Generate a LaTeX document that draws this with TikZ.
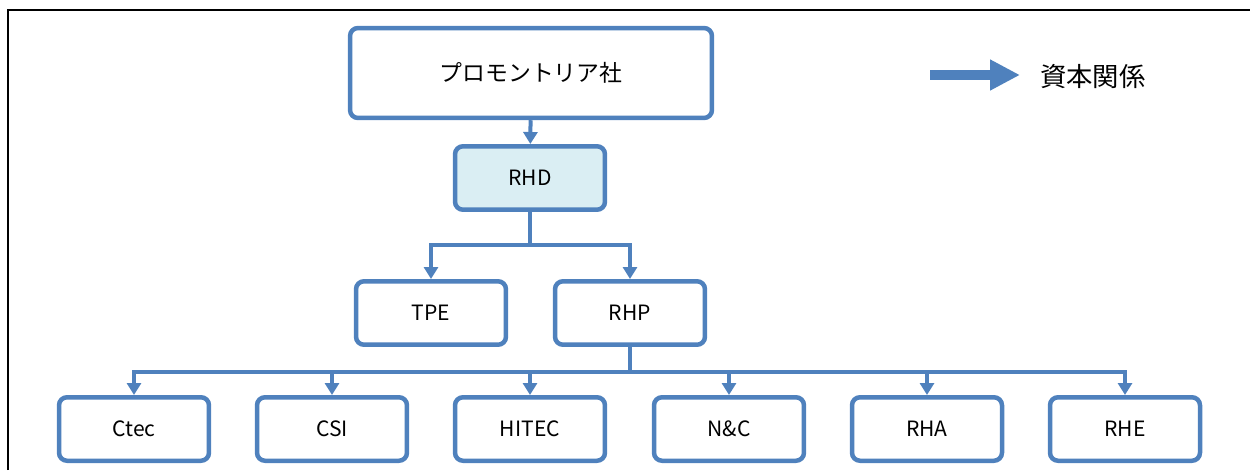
\documentclass[tikz,border=0pt]{standalone}
\usepackage{fontspec}
\setmainfont{Noto Sans CJK JP}
\usetikzlibrary{arrows.meta}
\definecolor{officeblue}{RGB}{79,129,189}
\definecolor{paleblue}{RGB}{218,238,243}
\tikzstyle{box} = [draw=officeblue, line width=0.09cm, rounded corners=0.16cm, minimum width=3cm, minimum height=1.27cm, fill=white, font=\fontsize{12}{14}\selectfont]

\begin{document}
\begin{tikzpicture}[x=0.02cm, y=-0.02cm,
			top/.style={box, minimum width=7.24cm, minimum height=1.8cm, font=\fontsize{13}{15}\selectfont},
			hold/.style={box, fill=paleblue},
			link/.style={draw=officeblue, line width=0.08cm},
			arr/.style={link, -{Triangle[width=0.28cm,length=0.24cm]}}]
			\useasboundingbox (0,0) rectangle (1250,470);
			\draw[line width=0.04cm] (8,470) -- (8,10) -- (1250,10);
			\node (prom) [top] at (531,73) {プロモントリア社};
			\node (rhd) [hold] at (530,178) {RHD};
			\node (tpe) [box] at (431,313) {TPE};
			\node (rhp) [box] at (630,313) {RHP};
			\node (ctec) [box] at (134,429) {Ctec};
			\node (csi) [box] at (332,429) {CSI};
			\node (hitec) [box] at (530,429) {HITEC};
			\node (nc) [box] at (729,429) {N\&C};
			\node (rha) [box] at (927,429) {RHA};
			\node (rhe) [box] at (1125,429) {RHE};
			\coordinate (s1) at (530,245);
			\coordinate (s2) at (630,372);
			\draw [arr] (prom) -- (rhd);
			\draw [link] (rhd) -- (s1);
			\draw [arr] (s1) -| (tpe);
			\draw [arr] (s1) -| (rhp);
			\draw [link] (rhp) -- (s2);
			\foreach \n in {ctec,csi,hitec,nc,rha,rhe}
				\draw [arr] (s2) -| (\n);
			\coordinate (la) at (930,75);
			\coordinate (lb) at (1020,75);
			\node (legend) [anchor=west, font=\fontsize{15}{17}\selectfont] at (1034,77) {資本関係};
			\draw [officeblue, line width=0.2cm, -{Triangle[width=0.58cm,length=0.6cm]}] (la) -- (lb);
		\end{tikzpicture}
\end{document}
